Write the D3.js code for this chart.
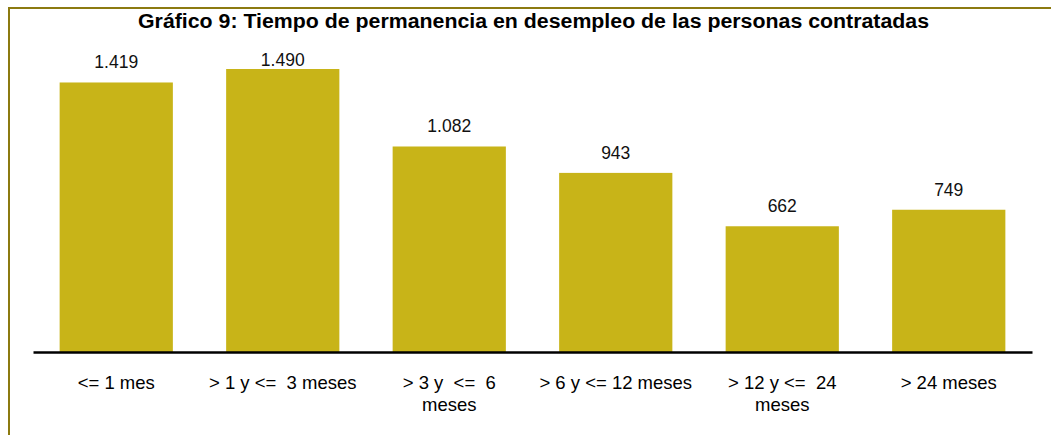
<!DOCTYPE html>
<html>
<head>
<meta charset="utf-8">
<script src="https://cdn.jsdelivr.net/npm/d3@7"></script>
<style>
  body { margin: 0; background: #fff; }
  text { font-family: Arial, "Liberation Sans", sans-serif; white-space: pre; }
</style>
</head>
<body>
<svg id="chart" width="1051" height="435"></svg>
<script>
const title = "Gráfico 9: Tiempo de permanencia en desempleo de las personas contratadas";
const categories = [
    ["<= 1 mes"],
    ["> 1 y <=  3 meses"],
    ["> 3 y  <=  6", "meses"],
    ["> 6 y <= 12 meses"],
    ["> 12 y <=  24", "meses"],
    ["> 24 meses"]
];
const values = [1419, 1490, 1082, 943, 662, 749];
const valueLabels = ["1.419", "1.490", "1.082", "943", "662", "749"];

const svg = d3.select("#chart");
const barColor = "#c8b418";

// frame (only left and top edges fall inside the picture)
svg.append("rect")
    .attr("x", 9).attr("y", 8)
    .attr("width", 1100).attr("height", 500)
    .attr("fill", "none")
    .attr("stroke", "#8c7a10")
    .attr("stroke-width", 2);

const x = d3.scaleBand()
    .domain(d3.range(values.length))
    .range([33, 1032])
    .paddingInner(0.32)
    .paddingOuter(0.16);

const y = d3.scaleLinear()
    .domain([0, 1490])
    .range([352, 69]);

svg.append("text")
    .attr("x", 533.5).attr("y", 28)
    .attr("text-anchor", "middle")
    .attr("font-weight", "bold")
    .attr("font-size", 19.5)
    .attr("textLength", 791)
    .attr("lengthAdjust", "spacingAndGlyphs")
    .text(title);

svg.selectAll(".bar")
    .data(values)
    .enter().append("rect")
    .attr("class", "bar")
    .attr("x", (d, i) => x(i))
    .attr("y", d => y(d))
    .attr("width", x.bandwidth())
    .attr("height", d => y(0) - y(d))
    .attr("fill", barColor);

svg.selectAll(".val")
    .data(values)
    .enter().append("text")
    .attr("class", "val")
    .attr("x", (d, i) => x(i) + x.bandwidth() / 2)
    .attr("y", d => Math.max(y(d) - 14, 66))
    .attr("text-anchor", "middle")
    .attr("font-size", 17.5)
    .attr("fill", "#111")
    .text((d, i) => valueLabels[i]);

// baseline
svg.append("g")
    .attr("transform", `translate(0,${y(0)})`)
    .call(d3.axisBottom(x).tickSize(0).tickFormat(""))
    .call(g => g.select(".domain").attr("stroke", "#000").attr("stroke-width", 2.5));

const labels = svg.selectAll(".cat")
    .data(categories)
    .enter().append("text")
    .attr("class", "cat")
    .attr("text-anchor", "middle")
    .attr("font-size", 18.5)
    .attr("fill", "#000");

labels.selectAll("tspan")
    .data((d, i) => d.map(line => ({ line, i })))
    .enter().append("tspan")
    .attr("x", d => x(d.i) + x.bandwidth() / 2)
    .attr("y", (d, j) => 389 + j * 22)
    .text(d => d.line);
</script>
</body>
</html>
